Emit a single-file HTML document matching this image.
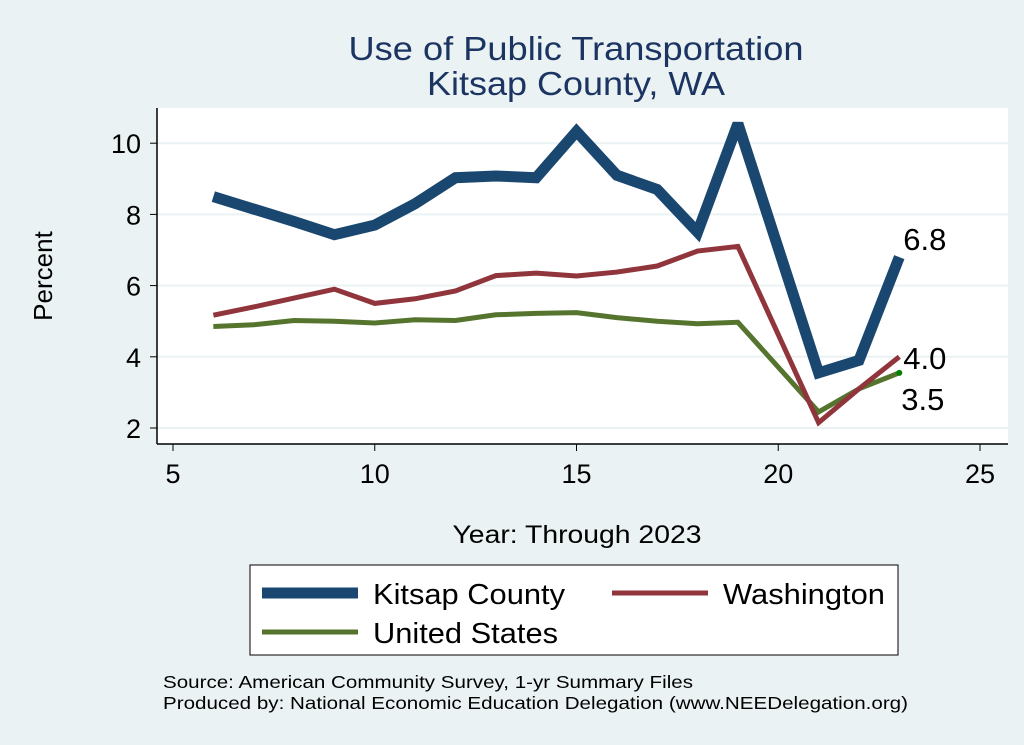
<!DOCTYPE html>
<html><head><meta charset="utf-8"><style>
body{margin:0;background:#eaf2f3;}
svg{display:block;font-family:"Liberation Sans",sans-serif;}
</style></head><body>
<svg id="chart" width="1024" height="745">
<rect x="0" y="0" width="1024" height="745" fill="#eaf2f3"/>
<text x="576" y="60" font-size="33" fill="#1c3462" text-anchor="middle" textLength="455" lengthAdjust="spacingAndGlyphs">Use of Public Transportation</text>
<text x="576" y="95" font-size="33" fill="#1c3462" text-anchor="middle" textLength="298" lengthAdjust="spacingAndGlyphs">Kitsap County, WA</text>
<rect x="157" y="108" width="851" height="336" fill="#ffffff"/>
<g id="grid"></g><g id="axes"></g><g id="series"></g><g id="labels"></g>
<text x="52" y="276" font-size="26" fill="#000" text-anchor="middle" transform="rotate(-90 52 276)">Percent</text>
<text x="577" y="543" font-size="25" fill="#000" text-anchor="middle" textLength="249" lengthAdjust="spacingAndGlyphs">Year: Through 2023</text>
<g>
<rect x="250" y="565" width="648" height="90" fill="#fff" stroke="#000" stroke-width="1"/>
<line x1="262" y1="593" x2="358" y2="593" stroke="#1a476f" stroke-width="11"/>
<text x="373" y="604" font-size="29" textLength="192" lengthAdjust="spacingAndGlyphs">Kitsap County</text>
<line x1="612" y1="593" x2="708" y2="593" stroke="#90353b" stroke-width="5"/>
<text x="723" y="604" font-size="29" textLength="162" lengthAdjust="spacingAndGlyphs">Washington</text>
<line x1="262" y1="632" x2="358" y2="632" stroke="#55752f" stroke-width="5"/>
<text x="373" y="643" font-size="29" textLength="185" lengthAdjust="spacingAndGlyphs">United States</text>
</g>
<text x="163" y="688" font-size="17.5" textLength="530" lengthAdjust="spacingAndGlyphs">Source: American Community Survey, 1-yr Summary Files</text>
<text x="163" y="709" font-size="17.5" textLength="745" lengthAdjust="spacingAndGlyphs">Produced by: National Economic Education Delegation (www.NEEDelegation.org)</text>
</svg>
<script>
const years=[6,7,8,9,10,11,12,13,14,15,16,17,18,19,21,22,23];
const kitsap=[8.5,8.15,7.8,7.43,7.7,8.3,9.03,9.08,9.03,10.33,9.1,8.7,7.5,10.55,3.55,3.9,6.8];
const washington=[5.17,5.4,5.65,5.9,5.5,5.63,5.85,6.28,6.35,6.27,6.38,6.55,6.97,7.1,2.15,3.1,4.0];
const unitedStates=[4.85,4.9,5.02,5.0,4.95,5.04,5.02,5.18,5.22,5.24,5.1,5.0,4.93,4.97,2.45,3.1,3.55];
const xTicks=[5,10,15,20,25];
const yTicks=[2,4,6,8,10];
const endLabels=["6.8","4.0","3.5"];
const NS="http://www.w3.org/2000/svg";
const X=v=>173+(v-5)*40.35;
const Y=v=>428-(v-2)*35.6;
function mk(tag,attrs,parent){const e=document.createElementNS(NS,tag);for(const k in attrs)e.setAttribute(k,attrs[k]);document.getElementById(parent).appendChild(e);return e;}
yTicks.forEach(t=>{
 const g=mk('line',{x1:157,x2:1008,y1:Y(t),y2:Y(t),stroke:'#eaf2f3','stroke-width':2},'grid');
 
 
 const tk=mk('line',{x1:150,x2:157,y1:Y(t),y2:Y(t),stroke:'#000','stroke-width':1},'axes');
 
 
 const tl=mk('text',{x:141,y:Y(t)+10,'font-size':27,'text-anchor':'end'},'axes');tl.textContent=t;
 
 
});
xTicks.forEach(t=>{
 const tk=mk('line',{x1:X(t),x2:X(t),y1:444,y2:451,stroke:'#000','stroke-width':1},'axes');
 
 
 const tl=mk('text',{x:X(t),y:483,'font-size':27,'text-anchor':'middle'},'axes');tl.textContent=t;
 
 
});
const ya=mk('line',{x1:157,x2:157,y1:108,y2:444,stroke:'#000','stroke-width':1.5},'axes');


const xa=mk('line',{x1:157,x2:1008,y1:444,y2:444,stroke:'#000','stroke-width':1.5},'axes');


function line(vals,color,w,name){
 const p=mk('polyline',{points:years.map((y,i)=>X(y)+','+Y(vals[i])).join(' '),fill:'none',stroke:color,'stroke-width':w,'stroke-linejoin':'miter','stroke-miterlimit':3},'series');
 
 
}
line(unitedStates,'#55752f',5,'line-united-states');
line(washington,'#90353b',5,'line-washington');
line(kitsap,'#1a476f',11,'line-kitsap');
const last=years.length-1;
const d=mk('circle',{cx:X(years[last]),cy:Y(unitedStates[last]),r:3,fill:'#008000'},'labels');


const l1=mk('text',{x:X(years[last])+4,y:Y(kitsap[last])-7,'font-size':31},'labels');l1.textContent=endLabels[0];


const l2=mk('text',{x:X(years[last])+4,y:Y(washington[last])+12,'font-size':31},'labels');l2.textContent=endLabels[1];


const l3=mk('text',{x:X(years[last])+2,y:Y(unitedStates[last])+37,'font-size':31},'labels');l3.textContent=endLabels[2];


</script>
</body></html>
